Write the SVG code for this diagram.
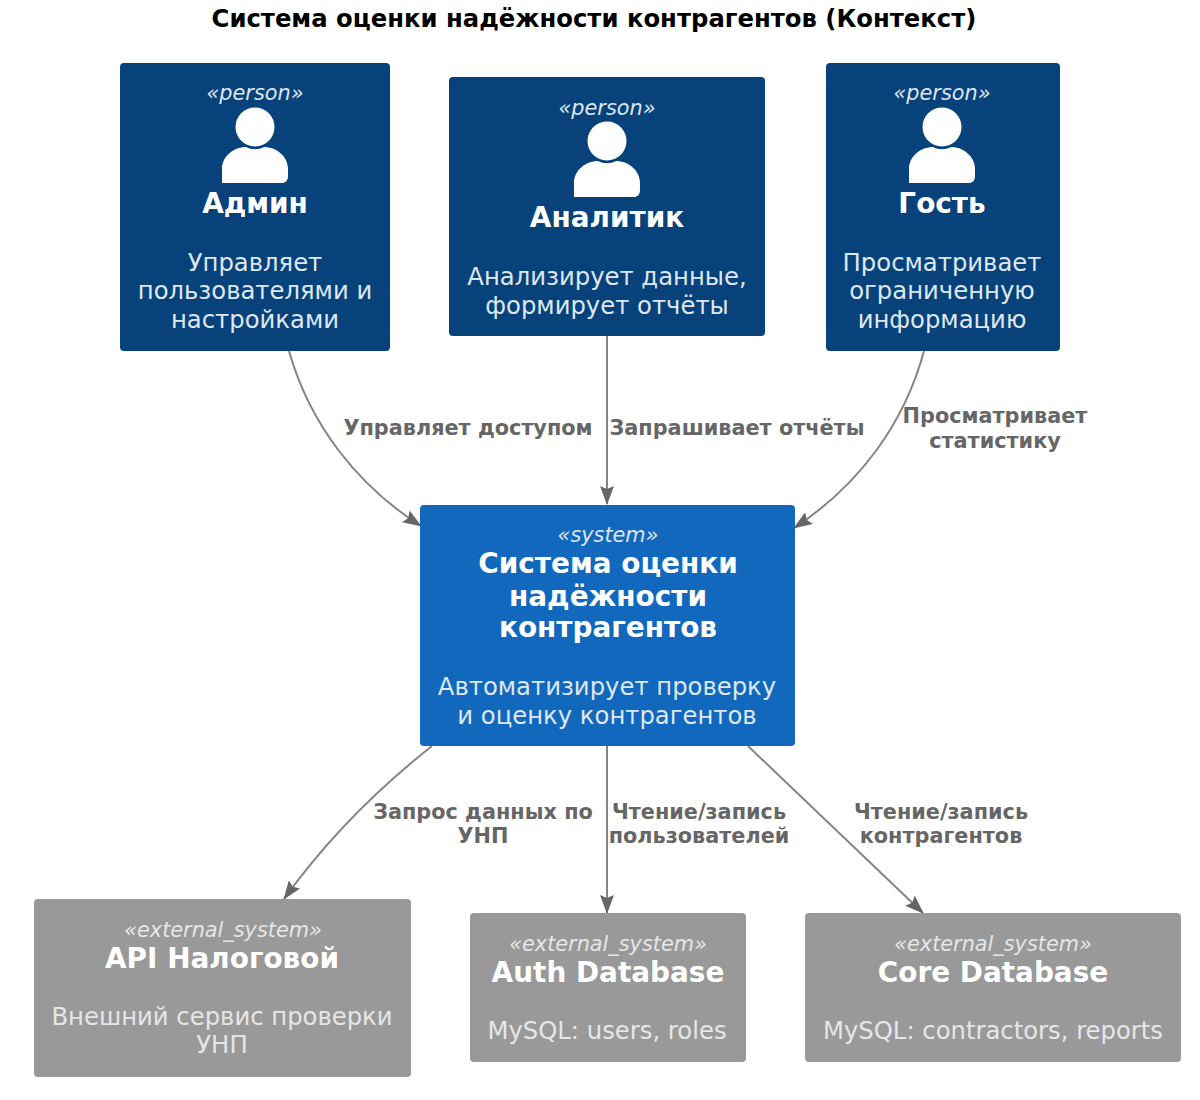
<svg xmlns="http://www.w3.org/2000/svg" width="1200" height="1100" viewBox="0 0 1200 1100">
<style>
text{font-family:"DejaVu Sans",sans-serif;text-anchor:middle}
.title{font-size:24.3px;font-weight:700;fill:#000}
.st{font-size:20.8px;font-style:italic;fill:#dfe6ee}
.name{font-size:27.9px;font-weight:700;fill:#fff}
.desc{font-size:24.3px;fill:#dfe8f2}
.dg{fill:#e6e6e6}
.lab{font-size:20.8px;font-weight:700;fill:#666}
.person{fill:#08427b}.sys{fill:#1168bd}.ext{fill:#999}
.conn{fill:none;stroke:#858585;stroke-width:2}
.ic{fill:#fff}
</style>
<defs>
<marker id="arr" viewBox="0 0 19 14" refX="18" refY="7" markerWidth="19" markerHeight="14" markerUnits="userSpaceOnUse" orient="auto"><path d="M0 0L19 7L0 14L3 7Z" fill="#666"/></marker>
<g id="pic"><circle cx="0" cy="0" r="19.5" class="ic"/><path class="ic" d="M-33 56V42C-33 29-21 20-9 20C-3 23 3 23 9 20C21 20 33 29 33 42V49C33 54 30 56 27 56Z"/></g>
</defs>
<rect width="1200" height="1100" fill="#fff"/>
<text id="title" class="title" x="594" y="26.5">Система оценки надёжности контрагентов (Контекст)</text>
<g id="connectors">
<path class="conn" marker-end="url(#arr)" d="M289 351C310 425 358 486 421 526"/>
<path class="conn" marker-end="url(#arr)" d="M607 336V504"/>
<path class="conn" marker-end="url(#arr)" d="M924 351C904 425 858 486 794 528"/>
<path class="conn" marker-end="url(#arr)" d="M432 746C380 787 330 835 284 899"/>
<path class="conn" marker-end="url(#arr)" d="M607 746V913"/>
<path class="conn" marker-end="url(#arr)" d="M748 746L923 913"/>
<text class="lab" x="468" y="435">Управляет доступом</text>
<text class="lab" x="737" y="435">Запрашивает отчёты</text>
<text class="lab" x="995" y="423">Просматривает</text>
<text class="lab" x="995" y="448">статистику</text>
<text class="lab" x="483" y="819">Запрос данных по</text>
<text class="lab" x="483" y="843">УНП</text>
<text class="lab" x="699" y="819">Чтение/запись</text>
<text class="lab" x="699" y="843">пользователей</text>
<text class="lab" x="941" y="819">Чтение/запись</text>
<text class="lab" x="941" y="843">контрагентов</text>
</g>
<g id="admin"><rect class="person" x="120" y="63" width="270" height="288" rx="4"/>
<text class="st" x="255" y="99.5">«person»</text><use href="#pic" x="255" y="127"/>
<text class="name" x="255" y="213">Админ</text>
<text class="desc" x="255" y="271">Управляет</text><text class="desc" x="255" y="299">пользователями и</text><text class="desc" x="255" y="328">настройками</text></g>
<g id="analyst"><rect class="person" x="449" y="77" width="316" height="259" rx="4"/>
<text class="st" x="607" y="114.5">«person»</text><use href="#pic" x="607" y="141"/>
<text class="name" x="607" y="227">Аналитик</text>
<text class="desc" x="607" y="285">Анализирует данные,</text><text class="desc" x="607" y="314">формирует отчёты</text></g>
<g id="guest"><rect class="person" x="826" y="63" width="234" height="288" rx="4"/>
<text class="st" x="942" y="99.5">«person»</text><use href="#pic" x="942" y="127"/>
<text class="name" x="942" y="213">Гость</text>
<text class="desc" x="942" y="271">Просматривает</text><text class="desc" x="942" y="299">ограниченную</text><text class="desc" x="942" y="328">информацию</text></g>
<g id="system"><rect class="sys" x="420" y="505" width="375" height="241" rx="4"/>
<text class="st" x="608" y="541.5">«system»</text>
<text class="name" x="608" y="573">Система оценки</text><text class="name" x="608" y="606">надёжности</text><text class="name" x="608" y="637">контрагентов</text>
<text class="desc" x="607" y="695">Автоматизирует проверку</text><text class="desc" x="607" y="724">и оценку контрагентов</text></g>
<g id="api"><rect class="ext" x="34" y="899" width="377" height="178" rx="4"/>
<text class="st dg" x="223" y="936.5">«external_system»</text>
<text class="name" x="222" y="968">API Налоговой</text>
<text class="desc dg" x="222" y="1025">Внешний сервис проверки</text><text class="desc dg" x="222" y="1053">УНП</text></g>
<g id="auth"><rect class="ext" x="470" y="913" width="276" height="149" rx="4"/>
<text class="st dg" x="608" y="950.5">«external_system»</text>
<text class="name" x="608" y="982">Auth Database</text>
<text class="desc dg" x="607" y="1039">MySQL: users, roles</text></g>
<g id="core"><rect class="ext" x="805" y="913" width="376" height="149" rx="4"/>
<text class="st dg" x="993" y="950.5">«external_system»</text>
<text class="name" x="993" y="982">Core Database</text>
<text class="desc dg" x="993" y="1039">MySQL: contractors, reports</text></g>
</svg>
